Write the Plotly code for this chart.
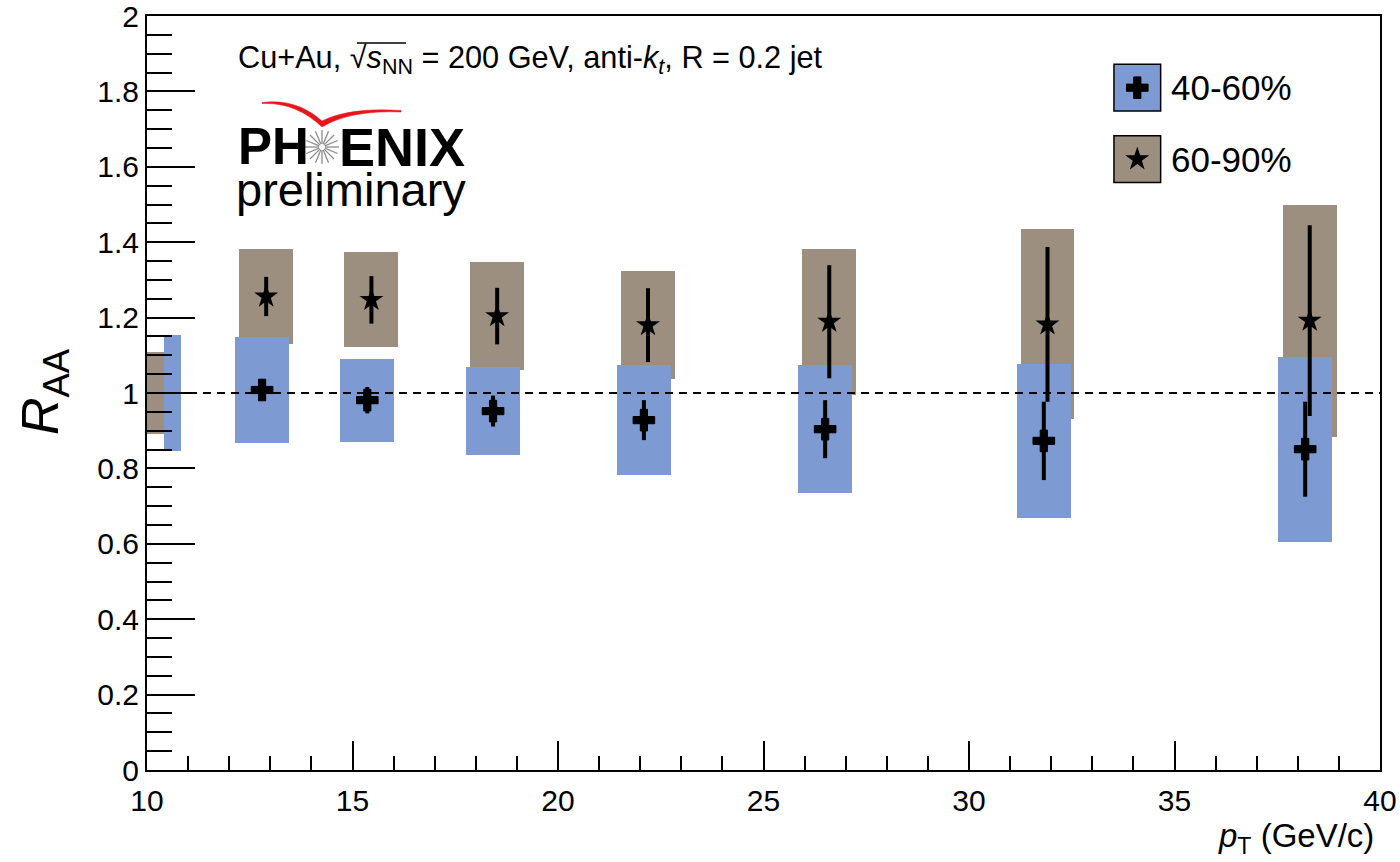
import math
import plotly.graph_objects as go

# 40-60% centrality: points, statistical and systematic uncertainties
pt_4060 = [12.80, 15.36, 18.42, 22.09, 26.50, 31.82, 38.18]
raa_4060 = [1.008, 0.981, 0.952, 0.928, 0.904, 0.873, 0.851]
stat_4060 = [0.020, 0.035, 0.041, 0.053, 0.077, 0.104, 0.126]
sys_4060 = [0.140, 0.110, 0.117, 0.145, 0.170, 0.204, 0.245]

# 60-90% centrality
pt_6090 = [12.90, 15.46, 18.52, 22.19, 26.60, 31.91, 38.29]
raa_6090 = [1.256, 1.247, 1.204, 1.180, 1.189, 1.182, 1.192]
stat_6090 = [0.052, 0.063, 0.075, 0.098, 0.150, 0.205, 0.253]
sys_6090 = [0.126, 0.126, 0.143, 0.143, 0.194, 0.252, 0.308]

# global normalisation uncertainties (drawn at unity)
norm_x = [10.21, 10.625]
norm_sys = [0.109, 0.155]
box_width = 1.31

labels = ["40-60%", "60-90%"]
col_4060 = "#7e9ad2"
col_6090 = "#9c8f80"

y_ticks = [0, 0.2, 0.4, 0.6, 0.8, 1, 1.2, 1.4, 1.6, 1.8, 2]
y_ticktext = ["0", "0.2", "0.4", "0.6", "0.8", "1", "1.2", "1.4", "1.6", "1.8", "2"]

FONT = "Liberation Sans, Arial, Helvetica, sans-serif"

# plot-area geometry in pixels (used for paper placement of decorations)
W, H = 1400, 862
L, R, T, B = 147, 20, 16, 92
PW, PH = W - L - R, H - T - B


def px(x):
    return (x - L) / PW


def py(y):
    return (H - B - y) / PH


fig = go.Figure()

# systematic boxes
fig.add_trace(go.Bar(
    x=pt_6090, y=[2 * s for s in sys_6090],
    base=[v - s for v, s in zip(raa_6090, sys_6090)],
    width=box_width, marker=dict(color=col_6090, line=dict(width=0)),
    showlegend=False, hoverinfo="skip"))
fig.add_trace(go.Bar(
    x=pt_4060, y=[2 * s for s in sys_4060],
    base=[v - s for v, s in zip(raa_4060, sys_4060)],
    width=box_width, marker=dict(color=col_4060, line=dict(width=0)),
    showlegend=False, hoverinfo="skip"))

# normalisation boxes
fig.add_trace(go.Bar(
    x=norm_x, y=[2 * s for s in norm_sys],
    base=[1 - s for s in norm_sys],
    width=0.415, marker=dict(color=[col_6090, col_4060], line=dict(width=0)),
    showlegend=False, hoverinfo="skip"))

# unity reference line
fig.add_trace(go.Scatter(
    x=[10, 40], y=[1, 1], mode="lines",
    line=dict(color="black", width=2, dash="8px,6px"),
    showlegend=False, hoverinfo="skip"))

# data points with statistical errors
fig.add_trace(go.Scatter(
    x=pt_6090, y=raa_6090, mode="markers",
    marker=dict(symbol="star", size=18, color="black"),
    error_y=dict(type="data", array=stat_6090, color="black", thickness=4, width=0),
    showlegend=False))
fig.add_trace(go.Scatter(
    x=pt_4060, y=raa_4060, mode="markers",
    marker=dict(symbol="cross", size=18, color="black", line=dict(color="black", width=1)),
    error_y=dict(type="data", array=stat_4060, color="black", thickness=4, width=0),
    showlegend=False))

# legend: swatches with markers on an overlay axis spanning the plot area
leg_cx = px(1137.3)
leg_cy = [py(87.7), py(159.2)]
leg_half_w = (1160.7 - 1114) / 2 / PW
leg_half_h = (111 - 64.3) / 2 / PH
for cy, col in zip(leg_cy, [col_4060, col_6090]):
    fig.add_shape(type="rect", xref="paper", yref="paper",
                  x0=leg_cx - leg_half_w, x1=leg_cx + leg_half_w,
                  y0=cy - leg_half_h, y1=cy + leg_half_h,
                  fillcolor=col, line=dict(color="black", width=1.5), layer="below")
fig.add_trace(go.Scatter(
    x=[leg_cx], y=[leg_cy[0]], xaxis="x2", yaxis="y2", mode="markers",
    marker=dict(symbol="cross", size=18, color="black", line=dict(color="black", width=1)),
    showlegend=False, hoverinfo="skip"))
fig.add_trace(go.Scatter(
    x=[leg_cx], y=[leg_cy[1]], xaxis="x2", yaxis="y2", mode="markers",
    marker=dict(symbol="star", size=18, color="black"), showlegend=False, hoverinfo="skip"))
for cy, lab in zip(leg_cy, labels):
    fig.add_annotation(x=px(1169), y=cy, xref="paper", yref="paper", text=lab,
                       showarrow=False, xanchor="left", yanchor="middle",
                       font=dict(family=FONT, size=35, color="black"))

# collision system label
fig.add_annotation(x=px(236), y=py(60), xref="paper", yref="paper",
                   text="Cu+Au, √<i>s</i><sub>NN</sub> = 200 GeV, anti-<i>k</i><sub><i>t</i></sub>, R = 0.2 jet",
                   showarrow=False, xanchor="left", yanchor="middle",
                   font=dict(family=FONT, size=30.7, color="black"))
# overline of the square root
fig.add_shape(type="line", xref="paper", yref="paper",
              x0=px(357), x1=px(406), y0=py(43), y1=py(43),
              line=dict(color="black", width=1.5))

# PHENIX logo
fig.add_annotation(x=px(236), y=py(147), xref="paper", yref="paper", text="<b>PH</b>",
                   showarrow=False, xanchor="left", yanchor="middle",
                   font=dict(family=FONT, size=51, color="black"))
fig.add_annotation(x=px(467), y=py(147), xref="paper", yref="paper", text="<b>ENIX</b>",
                   showarrow=False, xanchor="right", yanchor="middle",
                   font=dict(family=FONT, size=54, color="black"))
fig.add_annotation(x=px(234), y=py(190), xref="paper", yref="paper", text="preliminary",
                   showarrow=False, xanchor="left", yanchor="middle",
                   font=dict(family=FONT, size=47, color="black"))

# starburst in place of the "O"
sc_x, sc_y = 322, 147
n_rays = 16
for k in range(n_rays):
    a = 2 * math.pi * k / n_rays
    r0, r1 = 3, 17
    fig.add_shape(type="line", xref="paper", yref="paper",
                  x0=px(sc_x + r0 * math.cos(a)), y0=py(sc_y + r0 * math.sin(a)),
                  x1=px(sc_x + r1 * math.cos(a)), y1=py(sc_y + r1 * math.sin(a)),
                  line=dict(color="#8c8c8c", width=1.3))


# red swoosh above the logo
def P(x, y):
    return f"{px(x):.5f},{py(y):.5f}"


swoosh = ("M " + P(262, 102.5) + " Q " + P(296, 98) + " " + P(322, 121)
          + " Q " + P(350, 107) + " " + P(401, 110.5)
          + " L " + P(401, 112) + " Q " + P(350, 110) + " " + P(322, 127)
          + " Q " + P(296, 102) + " " + P(262, 103.5) + " Z")
fig.add_shape(type="path", xref="paper", yref="paper", path=swoosh,
              fillcolor="#e8161b", line=dict(color="#e8161b", width=0.5))

# axis titles
fig.add_annotation(x=px(1376), y=py(838), xref="paper", yref="paper",
                   text="<i>p</i><sub>T</sub> (GeV/c)", showarrow=False,
                   xanchor="right", yanchor="middle",
                   font=dict(family=FONT, size=33, color="black"))
fig.add_annotation(x=px(44), y=py(392), xref="paper", yref="paper",
                   text="<i>R</i><sub>AA</sub>", showarrow=False, textangle=-90,
                   xanchor="center", yanchor="middle",
                   font=dict(family=FONT, size=52, color="black"))

fig.update_layout(
    width=W, height=H,
    margin=dict(l=L, r=R, t=T, b=B, pad=0, autoexpand=False),
    paper_bgcolor="white", plot_bgcolor="white",
    barmode="overlay", bargap=0,
    showlegend=False,
    font=dict(family=FONT, size=30, color="black"),
    xaxis=dict(range=[10, 40], showgrid=False, zeroline=False, automargin=False,
               showline=True, linecolor="black", linewidth=2, mirror=True,
               ticks="inside", ticklen=29, tickwidth=2, tickcolor="black",
               tick0=10, dtick=5, ticklabelstandoff=3, ticklabeloverflow="allow",
               minor=dict(ticks="inside", ticklen=14, tickwidth=2,
                          tickcolor="black", dtick=1, showgrid=False),
               tickfont=dict(family=FONT, size=30, color="black")),
    yaxis=dict(range=[0, 2], showgrid=False, zeroline=False, automargin=False,
               showline=True, linecolor="black", linewidth=2, mirror=True,
               ticks="inside", ticklen=48, tickwidth=2, tickcolor="black",
               tickmode="array", tickvals=y_ticks, ticktext=y_ticktext,
               ticklabelstandoff=0, ticklabeloverflow="allow",
               minor=dict(ticks="inside", ticklen=25, tickwidth=2,
                          tickcolor="black", tick0=0, dtick=0.05, showgrid=False),
               tickfont=dict(family=FONT, size=30, color="black")),
    xaxis2=dict(range=[0, 1], overlaying="x", visible=False),
    yaxis2=dict(range=[0, 1], overlaying="y", visible=False),
)

fig.write_html("out.html")
